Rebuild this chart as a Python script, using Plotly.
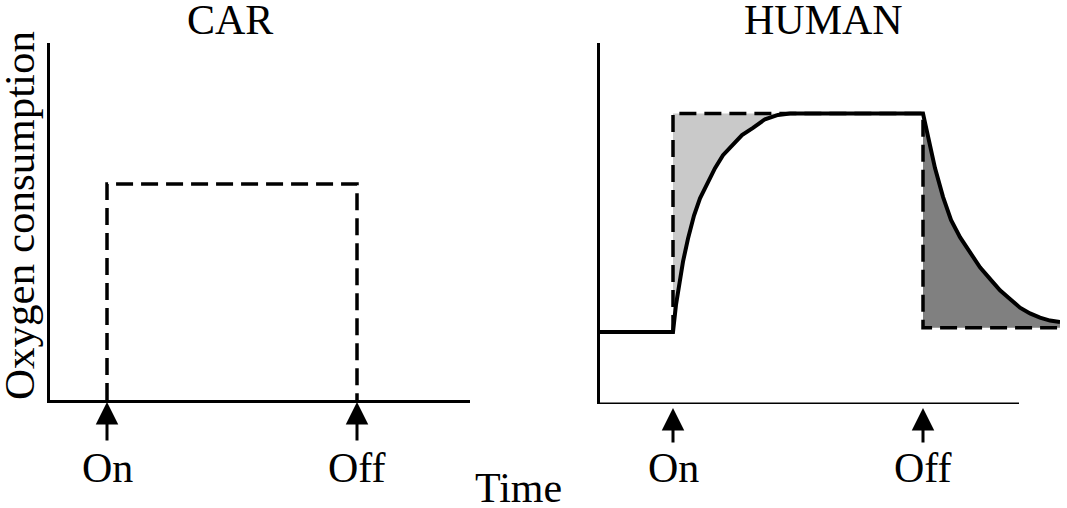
import plotly.graph_objects as go

# time in arbitrary units, exercise switched on at 1 and off at 6
ON_T = 1.0
OFF_T = 6.0

# CAR: oxygen consumption jumps straight to the demand level
car_t = [1.0, 1.0, 6.0, 6.0]
car_o2 = [0.0, 1.5, 1.5, 0.0]

# HUMAN: demand (dashed step)
demand_t = [1.0, 1.0, 6.0, 6.0, 8.74]
demand_o2 = [0.50, 2.02, 2.02, 0.53, 0.53]

# HUMAN: measured oxygen uptake (solid)
rest_t = [-0.46, 1.0]
rest_o2 = [0.50, 0.50]
rise_t = [1.00, 1.06, 1.12, 1.20, 1.30, 1.42, 1.54, 1.68, 1.84, 2.00,
          2.18, 2.38, 2.60, 2.84, 3.10, 3.34]
rise_o2 = [0.50, 0.69, 0.83, 0.99, 1.15, 1.31, 1.43, 1.53, 1.64, 1.73,
           1.80, 1.87, 1.92, 1.98, 2.01, 2.02]
fall_t = [6.00, 6.12, 6.24, 6.40, 6.56, 6.74, 6.94, 7.14, 7.34, 7.54,
          7.74, 7.94, 8.14, 8.34, 8.54, 8.74]
fall_o2 = [2.02, 1.83, 1.64, 1.44, 1.28, 1.16, 1.05, 0.95, 0.87, 0.79,
           0.73, 0.67, 0.63, 0.60, 0.58, 0.57]

W, H = 1067, 508
FONT = "Liberation Serif"
DASH = "17px,8px"


def px_x(p):
    return p / W


def px_y(p):
    return (H - p) / H


fig = go.Figure()

# left panel
fig.add_trace(go.Scatter(x=car_t, y=car_o2, mode="lines",
                         line=dict(color="black", width=3.5, dash=DASH),
                         xaxis="x", yaxis="y"))

# right panel: deficit and debt areas
fig.add_trace(go.Scatter(x=rise_t + [ON_T], y=rise_o2 + [demand_o2[1]],
                         mode="none", fill="toself", fillcolor="#c9c9c9",
                         xaxis="x2", yaxis="y2"))
fig.add_trace(go.Scatter(x=fall_t + [fall_t[-1], OFF_T],
                         y=fall_o2 + [demand_o2[-1], demand_o2[-1]],
                         mode="none", fill="toself", fillcolor="#808080",
                         xaxis="x2", yaxis="y2"))
fig.add_trace(go.Scatter(x=demand_t, y=demand_o2, mode="lines",
                         line=dict(color="black", width=3.5, dash=DASH),
                         xaxis="x2", yaxis="y2"))
fig.add_trace(go.Scatter(x=rest_t + rise_t + fall_t, y=rest_o2 + rise_o2 + fall_o2,
                         mode="lines", line=dict(color="black", width=4),
                         xaxis="x2", yaxis="y2"))

ax_common = dict(showgrid=False, zeroline=False, showticklabels=False, ticks="",
                 linecolor="black", linewidth=3, fixedrange=True)

fig.update_layout(
    width=W, height=H,
    margin=dict(l=0, r=0, t=0, b=0),
    paper_bgcolor="white", plot_bgcolor="white",
    showlegend=False,
    xaxis=dict(domain=[px_x(50), px_x(470)], range=[-0.14, 8.26],
               showline=True, anchor="y", **ax_common),
    yaxis=dict(domain=[px_y(400), px_y(43)], range=[0, 2.48],
               showline=True, anchor="x", **ax_common),
    xaxis2=dict(domain=[px_x(600), px_x(1060)], range=[-0.46, 8.74],
                showline=False, anchor="y2", **ax_common),
    yaxis2=dict(domain=[px_y(404), px_y(43)], range=[0, 2.51],
                showline=True, anchor="x2", **ax_common),
)

# right x axis line stops short of the curve
fig.add_shape(type="line", xref="x2", yref="y2", x0=-0.46, x1=7.92, y0=0, y1=0,
              line=dict(color="black", width=3))

text_font = dict(family=FONT, size=42, color="black")

for xr, yr, ay, sd in [("x", "y", 42, 2), ("x2", "y2", 40, 4)]:
    for t, label in [(ON_T, "On"), (OFF_T, "Off")]:
        fig.add_annotation(x=t, y=0, xref=xr, yref=yr, text="", showarrow=True,
                           ax=0, ay=ay, arrowhead=2, arrowsize=1.5, arrowwidth=3,
                           arrowcolor="black", standoff=sd)
        fig.add_annotation(x=t, y=px_y(468), xref=xr, yref="paper", text=label,
                           showarrow=False, font=text_font,
                           xanchor="center", yanchor="middle")

titles = [("CAR", 230, 20), ("HUMAN", 823, 20), ("Time", 518, 488)]
for label, cx, cy in titles:
    fig.add_annotation(x=px_x(cx), y=px_y(cy), xref="paper", yref="paper", text=label,
                       showarrow=False, font=text_font,
                       xanchor="center", yanchor="middle")
fig.add_annotation(x=px_x(19), y=px_y(216), xref="paper", yref="paper",
                   text="Oxygen consumption", textangle=-90, showarrow=False,
                   xanchor="center", yanchor="middle",
                   font=dict(family=FONT, size=43, color="black"))

fig.write_html("out.html", config={"displayModeBar": False},
               post_script="document.body.style.margin='0';")
